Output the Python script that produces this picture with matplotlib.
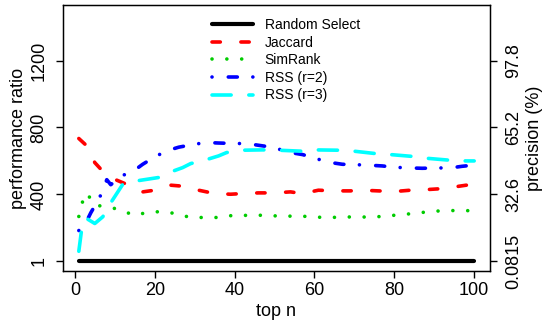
import matplotlib
matplotlib.use("Agg")
import matplotlib.pyplot as plt

plt.rcParams['font.family'] = ['Liberation Sans', 'DejaVu Sans']

# values
random_n = [1, 100]
random_v = [1, 1]

jaccard_n = [1, 3, 5, 7, 10, 13, 15, 17, 20, 24, 27, 31, 35, 39, 42, 46, 50,
             54, 57, 61, 65, 69, 72, 76, 80, 84, 87, 91, 94, 98, 100]
jaccard_v = [734, 690, 590, 538, 490, 460, 432, 415, 425, 455, 449, 425, 405,
             401, 405, 409, 409, 415, 405, 425, 421, 421, 425, 421, 417, 425,
             427, 433, 441, 455, 457]

simrank_n = [1, 2, 3, 5, 8, 11, 15, 18, 22, 25, 29, 33, 36, 40, 44, 48, 51,
             55, 59, 62, 66, 70, 74, 78, 81, 85, 89, 92, 96, 100]
simrank_v = [268, 362, 408, 335, 327, 310, 274, 292, 298, 286, 262, 262, 262,
             276, 274, 276, 270, 270, 268, 262, 263, 266, 264, 270, 278, 286,
             298, 302, 304, 302]

rss2_n = [1, 3, 4, 6, 7, 8, 9, 12, 15, 17, 20, 23, 26, 30, 33, 36, 40, 43,
          47, 50, 53, 57, 60, 63, 67, 70, 74, 77, 80, 84, 87, 91, 94, 97, 100]
rss2_v = [184, 242, 290, 373, 420, 488, 458, 513, 545, 580, 624, 660, 682,
          700, 710, 707, 704, 704, 690, 680, 654, 638, 618, 594, 580, 578,
          574, 570, 562, 558, 556, 558, 558, 568, 575]

rss3_n = [1, 2, 3, 5, 7, 9, 12, 15, 18, 21, 24, 27, 29, 33, 36, 38, 42, 47,
          51, 57, 60, 66, 70, 76, 79, 85, 88, 94, 98, 100]
rss3_v = [60, 245, 255, 226, 266, 350, 460, 479, 490, 501, 534, 560, 584,
          608, 630, 650, 664, 666, 664, 658, 666, 664, 658, 642, 638, 626,
          616, 604, 600, 600]

ratio_ticks = [1, 400, 800, 1200]
ratio_labels = ['1', '400', '800', '1200']
precision_labels = ['0.0815', '32.6', '65.2', '97.8']
x_ticks = [0, 20, 40, 60, 80, 100]

fig = plt.figure(figsize=(5.5, 3.25), dpi=100)
ax = fig.add_axes([63 / 550, 1 - 271 / 325, 427 / 550, 265.5 / 325])

lw = 2.6
ax.plot(random_n, random_v, color='black', lw=3.0, solid_capstyle='round',
        label='Random Select')
ax.plot(jaccard_n, jaccard_v, color='red', lw=lw, dashes=(2.3, 5.7),
        dash_capstyle='round', label='Jaccard')
ax.plot(simrank_n, simrank_v, color='#00cc00', lw=lw, dashes=(0.01, 4.1),
        dash_capstyle='round', label='SimRank')
ax.plot(rss2_n, rss2_v, color='blue', lw=lw, dashes=(0.01, 4.5, 2.5, 4.3),
        dash_capstyle='round', label='RSS (r=2)')
ax.plot(rss3_n, rss3_v, color='cyan', lw=lw, dashes=(5.3, 4.9),
        dash_capstyle='round', label='RSS (r=3)')

ax.set_xlim(-2.96, 103.96)
ax.set_ylim(-57.8, 1528.8)
ax.set_xticks(x_ticks)
ax.set_yticks(ratio_ticks)
ax.set_yticklabels(ratio_labels, rotation=90, va='center')
ax.tick_params(labelsize=13, length=5, width=1, direction='out')
ax.tick_params(axis='x', pad=3)
ax.tick_params(axis='y', pad=6)
ax.set_xlabel('top n', fontsize=13, labelpad=3)
ax.set_ylabel('performance ratio', fontsize=13, labelpad=3)
for s in ax.spines.values():
    s.set_linewidth(1)

ax2 = ax.twinx()
ax2.set_ylim(ax.get_ylim())
ax2.set_yticks(ratio_ticks)
ax2.set_yticklabels(precision_labels, rotation=90, va='center')
ax2.tick_params(labelsize=13, length=5, width=1, direction='out', pad=6)
ax2.set_ylabel('precision (%)', fontsize=13, labelpad=3)

ax.legend(loc='upper left', bbox_to_anchor=(212 / 550, 1 - 18 / 325),
          bbox_transform=fig.transFigure, frameon=False, fontsize=10,
          handlelength=2.95, handletextpad=0.85, labelspacing=0.26,
          borderpad=0, borderaxespad=0)

fig.savefig('out.png', dpi=100)
